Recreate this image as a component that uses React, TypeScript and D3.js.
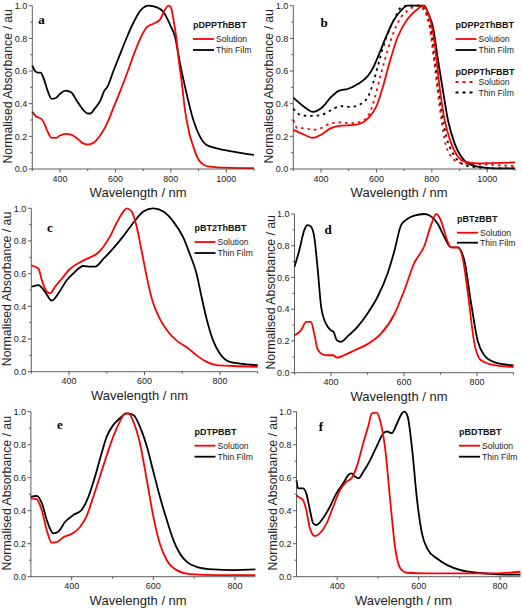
import React from "react";
import * as d3 from "d3";

type P = [number, number];

// ---------- Data (wavelength nm, normalised absorbance) ----------
const aSolution: P[] = [[300,0.35],[315,0.32],[330,0.31],[340,0.29],[355,0.23],[370,0.19],[385,0.19],[400,0.205],[420,0.215],[440,0.21],[460,0.19],[480,0.16],[500,0.15],[520,0.16],[546,0.208],[570,0.28],[594,0.38],[618,0.48],[642,0.586],[666,0.70],[690,0.80],[714,0.87],[737,0.89],[761,0.915],[780,0.98],[792,1.0],[800,0.99],[810,0.91],[820,0.80],[827,0.69],[840,0.52],[851,0.36],[865,0.23],[881,0.137],[893,0.08],[905,0.045],[920,0.025],[941,0.015],[1000,0.008],[1100,0.005]];
const aFilm: P[] = [[300,0.635],[310,0.60],[320,0.59],[330,0.59],[340,0.56],[355,0.48],[370,0.43],[385,0.435],[400,0.46],[420,0.48],[440,0.47],[460,0.42],[480,0.37],[500,0.34],[510,0.34],[525,0.37],[546,0.42],[560,0.48],[570,0.50],[594,0.606],[618,0.708],[642,0.81],[666,0.90],[690,0.97],[720,1.0],[750,0.99],[774,0.96],[798,0.88],[815,0.81],[833,0.647],[857,0.46],[881,0.30],[905,0.198],[929,0.147],[965,0.127],[1025,0.107],[1100,0.086]];

const bSolution: P[] = [[300,0.24],[340,0.21],[370,0.19],[400,0.21],[436,0.25],[472,0.265],[520,0.27],[545,0.28],[569,0.31],[599,0.38],[623,0.50],[647,0.65],[677,0.81],[713,0.92],[749,0.98],[770,1.0],[780,0.98],[792,0.93],[810,0.77],[828,0.50],[846,0.30],[870,0.157],[894,0.075],[918,0.045],[966,0.035],[1100,0.04]];
const bFilm: P[] = [[300,0.437],[340,0.38],[370,0.35],[406,0.38],[436,0.44],[466,0.48],[496,0.49],[533,0.52],[569,0.57],[587,0.616],[611,0.71],[635,0.81],[659,0.90],[683,0.96],[713,1.0],[773,1.0],[786,0.955],[804,0.87],[822,0.67],[840,0.48],[858,0.30],[882,0.157],[906,0.075],[930,0.035],[966,0.014],[1026,0.004],[1100,0.004]];
const bFSolution: P[] = [[300,0.30],[315,0.25],[340,0.25],[370,0.24],[400,0.25],[436,0.28],[472,0.285],[508,0.28],[545,0.29],[575,0.34],[593,0.43],[617,0.586],[641,0.73],[665,0.85],[689,0.93],[713,0.97],[749,1.0],[773,0.97],[792,0.87],[810,0.63],[828,0.38],[846,0.18],[870,0.075],[906,0.035],[1026,0.024],[1100,0.018]];
const bFFilm: P[] = [[300,0.37],[328,0.33],[364,0.325],[400,0.33],[436,0.36],[472,0.385],[508,0.38],[545,0.40],[569,0.44],[587,0.52],[605,0.63],[623,0.74],[641,0.83],[665,0.92],[689,0.99],[713,1.0],[761,1.0],[780,0.955],[798,0.83],[816,0.586],[834,0.36],[852,0.20],[876,0.096],[906,0.035],[942,0.014],[1026,0.004],[1100,0.004]];

const cSolution: P[] = [[300,0.65],[319,0.63],[328,0.56],[341,0.49],[350,0.48],[363,0.52],[381,0.57],[403,0.63],[429,0.67],[456,0.70],[473,0.72],[491,0.765],[509,0.83],[526,0.91],[544,0.98],[553,1.0],[566,0.98],[579,0.89],[592,0.745],[606,0.58],[619,0.45],[637,0.34],[659,0.255],[685,0.19],[712,0.15],[738,0.10],[765,0.06],[791,0.04],[835,0.035],[900,0.03]];
const cFilm: P[] = [[300,0.52],[319,0.53],[336,0.49],[354,0.435],[372,0.48],[394,0.56],[411,0.60],[438,0.647],[456,0.643],[469,0.643],[491,0.69],[517,0.755],[544,0.83],[570,0.91],[597,0.98],[623,1.0],[650,0.98],[676,0.92],[703,0.82],[720,0.72],[738,0.60],[751,0.46],[765,0.32],[782,0.19],[800,0.11],[826,0.06],[853,0.05],[900,0.04]];

const dSolution: P[] = [[300,0.236],[318,0.267],[332,0.32],[345,0.32],[354,0.246],[363,0.15],[377,0.116],[391,0.11],[405,0.11],[418,0.095],[436,0.11],[464,0.14],[500,0.18],[537,0.246],[574,0.37],[601,0.52],[628,0.69],[656,0.80],[674,0.93],[688,1.0],[701,0.96],[715,0.857],[729,0.79],[747,0.79],[760,0.73],[774,0.52],[793,0.183],[811,0.078],[838,0.053],[900,0.036]];
const dFilm: P[] = [[300,0.667],[313,0.77],[327,0.90],[336,0.93],[345,0.92],[354,0.857],[363,0.667],[373,0.415],[382,0.33],[391,0.29],[400,0.267],[407,0.257],[416,0.204],[427,0.194],[446,0.23],[473,0.29],[500,0.373],[528,0.48],[555,0.625],[574,0.77],[592,0.93],[610,0.97],[628,0.99],[656,1.0],[674,0.985],[692,0.94],[710,0.857],[729,0.79],[747,0.79],[765,0.71],[784,0.436],[802,0.20],[820,0.11],[847,0.067],[900,0.046]];

const eSolution: P[] = [[300,0.475],[314,0.47],[327,0.40],[339,0.28],[351,0.206],[363,0.21],[380,0.24],[400,0.26],[420,0.30],[437,0.37],[453,0.485],[469,0.606],[486,0.737],[502,0.85],[518,0.94],[531,0.99],[539,0.99],[551,0.94],[567,0.81],[584,0.586],[600,0.364],[616,0.20],[633,0.10],[657,0.04],[690,0.016],[755,0.01],[850,0.01]];
const eFilm: P[] = [[300,0.485],[314,0.49],[327,0.444],[339,0.343],[355,0.263],[367,0.273],[384,0.333],[404,0.374],[424,0.404],[441,0.485],[457,0.606],[473,0.747],[486,0.85],[502,0.92],[518,0.96],[535,0.99],[551,0.98],[567,0.91],[584,0.79],[600,0.636],[616,0.485],[633,0.343],[649,0.222],[665,0.141],[682,0.09],[706,0.06],[747,0.044],[796,0.04],[850,0.044]];

const fSolution: P[] = [[300,0.495],[304,0.485],[316,0.465],[324,0.404],[333,0.293],[345,0.246],[357,0.263],[374,0.323],[390,0.424],[407,0.525],[423,0.576],[435,0.596],[448,0.667],[464,0.81],[477,0.92],[485,0.99],[497,0.995],[505,0.95],[518,0.77],[530,0.465],[542,0.18],[555,0.05],[571,0.024],[621,0.02],[785,0.02],[850,0.03]];
const fFilm: P[] = [[300,0.586],[304,0.535],[316,0.535],[324,0.505],[333,0.404],[341,0.323],[349,0.313],[365,0.354],[382,0.424],[398,0.505],[415,0.566],[427,0.616],[435,0.626],[444,0.606],[452,0.596],[464,0.636],[481,0.707],[497,0.79],[514,0.87],[522,0.88],[534,0.87],[547,0.93],[559,0.99],[565,1.0],[573,0.97],[584,0.77],[596,0.465],[608,0.263],[621,0.17],[645,0.11],[670,0.07],[703,0.04],[744,0.024],[785,0.016],[850,0.012]];

const yTicks = [0, 0.2, 0.4, 0.6, 0.8, 1.0];
const yMinor = [0.1, 0.3, 0.5, 0.7, 0.9];
const xTicksWide = [400, 600, 800, 1000];
const xMinorWide = [300, 500, 700, 900, 1100];
const xTicksNarrow = [400, 600, 800];
const xMinorNarrow = [300, 500, 700, 900];

const RED = "#ff0000";
const BLACK = "#000000";

type Series = { data: P[]; color: string; dash?: string };
type LegendGroup = { title: string; ty: number; items: { label: string; color: string; dash?: string; y: number }[] };
type Panel = {
  letter: string; lx: number; ly: number;
  left: number; right: number; top: number; bottom: number;
  domain: [number, number]; ticks: number[]; minor: number[];
  series: Series[];
  legX: number; legends: LegendGroup[];
};

const std = (ty: number): LegendGroup["items"] => [
  { label: "Solution", color: RED, y: ty + 11 },
  { label: "Thin Film", color: BLACK, y: ty + 22 },
];

const panels: Panel[] = [
  { letter: "a", lx: 41.5, ly: 24, left: 32.3, right: 254, top: 5.7, bottom: 169, domain: [300, 1100], ticks: xTicksWide, minor: xMinorWide,
    series: [{ data: aFilm, color: BLACK }, { data: aSolution, color: RED }],
    legX: 193, legends: [{ title: "pDPPThBBT", ty: 28, items: std(28) }] },
  { letter: "b", lx: 324, ly: 27, left: 293.3, right: 515, top: 5.7, bottom: 169, domain: [300, 1100], ticks: xTicksWide, minor: xMinorWide,
    series: [{ data: bFFilm, color: BLACK, dash: "2.5,4" }, { data: bFSolution, color: RED, dash: "2.5,4" }, { data: bFilm, color: BLACK }, { data: bSolution, color: RED }],
    legX: 455.5, legends: [
      { title: "pDPP2ThBBT", ty: 28, items: std(28) },
      { title: "pDPPThFBBT", ty: 75, items: [
        { label: "Solution", color: RED, dash: "3,4", y: 82 },
        { label: "Thin Film", color: BLACK, dash: "3,4", y: 92.5 }] }] },
  { letter: "c", lx: 50, ly: 232, left: 31.3, right: 257.7, top: 208.3, bottom: 371.7, domain: [300, 900], ticks: xTicksNarrow, minor: xMinorNarrow,
    series: [{ data: cFilm, color: BLACK }, { data: cSolution, color: RED }],
    legX: 194.5, legends: [{ title: "pBT2ThBBT", ty: 231, items: std(231) }] },
  { letter: "d", lx: 328, ly: 234, left: 294.5, right: 513.5, top: 214, bottom: 372.7, domain: [300, 900], ticks: xTicksNarrow, minor: xMinorNarrow,
    series: [{ data: dFilm, color: BLACK }, { data: dSolution, color: RED }],
    legX: 457, legends: [{ title: "pBTzBBT", ty: 222, items: [
      { label: "Solution", color: RED, y: 232.7 }, { label: "Thin Film", color: BLACK, y: 242.7 }] }] },
  { letter: "e", lx: 60, ly: 429, left: 30.9, right: 255.4, top: 411.7, bottom: 576.7, domain: [300, 850], ticks: xTicksNarrow, minor: [500, 700],
    series: [{ data: eFilm, color: BLACK }, { data: eSolution, color: RED }],
    legX: 194.5, legends: [{ title: "pDTPBBT", ty: 435, items: std(435).map((d, i) => ({ ...d, y: 445.7 + i * 11 })) }] },
  { letter: "f", lx: 321, ly: 431, left: 296.5, right: 520.5, top: 411.7, bottom: 576.7, domain: [300, 850], ticks: xTicksNarrow, minor: [500, 700],
    series: [{ data: fFilm, color: BLACK }, { data: fSolution, color: RED }],
    legX: 459, legends: [{ title: "pBDTBBT", ty: 435, items: std(435).map((d, i) => ({ ...d, y: 445.7 + i * 11 })) }] },
];

const SANS = "Arial, 'Liberation Sans', Helvetica, sans-serif";
const fmt = d3.format(".1f");

function PanelView({ p }: { p: Panel }) {
  const x = d3.scaleLinear().domain(p.domain).range([p.left, p.right]);
  const y = d3.scaleLinear().domain([0, 1]).range([p.bottom, p.top]);
  const line = d3.line<P>().x((d) => x(d[0])).y((d) => y(d[1])).curve(d3.curveMonotoneX);
  const axisColor = "#333";
  const midX = (p.left + p.right) / 2 - 5;
  const midY = (p.top + p.bottom) / 2 - 1;
  return (
    <g>
      {p.series.map((s, i) => (
        <path key={i} d={line(s.data) || ""} fill="none" stroke={s.color} strokeWidth={1.8}
          strokeDasharray={s.dash} strokeLinejoin="round" />
      ))}
      {/* axes */}
      <line x1={p.left} x2={p.right} y1={p.bottom} y2={p.bottom} stroke={axisColor} strokeWidth={0.8} />
      <line x1={p.left} x2={p.left} y1={p.bottom} y2={p.top} stroke={axisColor} strokeWidth={0.8} />
      {p.ticks.map((t) => (
        <g key={"xt" + t}>
          <line x1={x(t)} x2={x(t)} y1={p.bottom} y2={p.bottom + 3.5} stroke={axisColor} strokeWidth={0.8} />
          <text x={x(t)} y={p.bottom + 12.5} textAnchor="middle" fontSize={9} fontFamily={SANS} fill="#222">{t}</text>
        </g>
      ))}
      {p.minor.map((t) => (
        <line key={"xm" + t} x1={x(t)} x2={x(t)} y1={p.bottom} y2={p.bottom + 2} stroke={axisColor} strokeWidth={0.8} />
      ))}
      {yTicks.map((t) => (
        <g key={"yt" + t}>
          <line x1={p.left - 3.5} x2={p.left} y1={y(t)} y2={y(t)} stroke={axisColor} strokeWidth={0.8} />
          <text x={p.left - 5} y={y(t) + 3.2} textAnchor="end" fontSize={9} fontFamily={SANS} fill="#222">{fmt(t)}</text>
        </g>
      ))}
      {yMinor.map((t) => (
        <line key={"ym" + t} x1={p.left - 2} x2={p.left} y1={y(t)} y2={y(t)} stroke={axisColor} strokeWidth={0.8} />
      ))}
      <text x={midX} y={p.bottom + 28} textAnchor="middle" fontSize={13} fontFamily={SANS} fill="#222">Wavelength / nm</text>
      <text transform={`translate(${p.left - 20},${midY}) rotate(-90)`} textAnchor="middle" fontSize={12.3} fontFamily={SANS} fill="#222">Normalised Absorbance / au</text>
      <text x={p.lx} y={p.ly} textAnchor="middle" fontSize={13} fontWeight="bold" fontFamily="'Liberation Serif', 'Times New Roman', serif">{p.letter}</text>
      {p.legends.map((g) => (
        <g key={g.title}>
          <text x={p.legX} y={g.ty} fontSize={9} fontWeight="bold" fontFamily={SANS} fill="#111">{g.title}</text>
          {g.items.map((it) => (
            <g key={it.label}>
              <line x1={p.legX} x2={p.legX + 21} y1={it.y} y2={it.y} stroke={it.color} strokeWidth={1.8} strokeDasharray={it.dash} />
              <text x={p.legX + 23} y={it.y + 3.2} fontSize={8.6} fontFamily={SANS} fill="#222">{it.label}</text>
            </g>
          ))}
        </g>
      ))}
    </g>
  );
}

export default function App() {
  return (
    <svg width={522} height={608} style={{ position: "absolute", left: 0, top: 0, background: "#fff" }}>
      <rect width={522} height={608} fill="#fff" />
      {panels.map((p) => <PanelView key={p.letter} p={p} />)}
    </svg>
  );
}
